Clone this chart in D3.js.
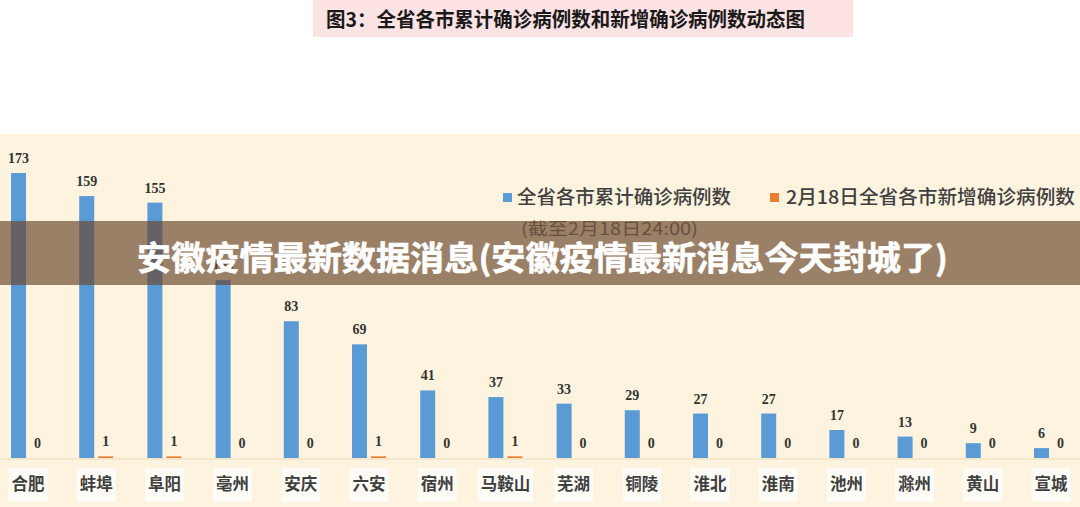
<!DOCTYPE html>
<html>
<head>
<meta charset="utf-8">
<script src="https://cdn.jsdelivr.net/npm/d3@7"></script>
<style>
  html, body { margin: 0; padding: 0; background: #ffffff; }
  svg { display: block; }
</style>
</head>
<body>
<svg id="chart" width="1080" height="507"></svg>
<script>
const cities = ["合肥","蚌埠","阜阳","亳州","安庆","六安","宿州","马鞍山","芜湖","铜陵","淮北","淮南","池州","滁州","黄山","宣城"];
const cumulative = [173,159,155,108,83,69,41,37,33,29,27,27,17,13,9,6];
const newCases = [0,1,1,0,0,1,0,1,0,0,0,0,0,0,0,0];
const seriesNames = ["全省各市累计确诊病例数","2月18日全省各市新增确诊病例数"];
const titleText = "图3：全省各市累计确诊病例数和新增确诊病例数动态图";
const subtitleText = "(截至2月18日24:00)";
const bannerText = "安徽疫情最新数据消息(安徽疫情最新消息今天封城了)";

const W = 1080, H = 507;
const svg = d3.select("#chart");
const CJK = "'Noto Sans CJK SC','Noto Sans',sans-serif";
const colors = ["#5b9bd5", "#ed7d31"];

// backgrounds
svg.append("rect").attr("x",0).attr("y",0).attr("width",W).attr("height",H).attr("fill","#ffffff");
svg.append("rect").attr("x",0).attr("y",134).attr("width",W).attr("height",H-134).attr("fill","#fdf3de");

// title box
svg.append("rect").attr("x",313).attr("y",0).attr("width",540).attr("height",37).attr("fill","#fde3e3");
svg.append("text").attr("x",326).attr("y",27)
  .attr("font-family",CJK).attr("font-weight",700).attr("font-size",20)
  .attr("fill","#1a1a1a").attr("textLength",479).attr("lengthAdjust","spacingAndGlyphs")
  .text(titleText);

// scales
const step = 68.2;
const x = d3.scaleBand().domain(cities).range([28 - step/2, 28 - step/2 + step*cities.length]).padding(0);
const x1 = d3.scaleBand().domain([0,1]).range([x.bandwidth()/2 - 17, x.bandwidth()/2 + 17]).paddingInner(4/19).paddingOuter(0);
const y = d3.scaleLinear().domain([0, 173]).range([458, 173]);

// axis line
svg.append("line").attr("x1",0).attr("x2",W).attr("y1",y(0)+1).attr("y2",y(0)+1)
  .attr("stroke","#f1e3c6").attr("stroke-width",1.5);

const groups = svg.append("g").selectAll("g").data(cities).join("g")
  .attr("transform", d => `translate(${x(d)},0)`);

const seriesData = [cumulative, newCases];
seriesData.forEach((vals, si) => {
  groups.append("rect")
    .attr("x", x1(si))
    .attr("width", x1.bandwidth())
    .attr("y", (d,i) => y(vals[i]))
    .attr("height", (d,i) => y(0) - y(vals[i]))
    .attr("fill", colors[si]);
  groups.append("text")
    .attr("x", x1(si) + x1.bandwidth()/2)
    .attr("y", (d,i) => y(vals[i]) - 10)
    .attr("text-anchor","middle")
    .attr("font-family","'Liberation Serif','DejaVu Serif',serif")
    .attr("font-weight",700)
    .attr("font-size", 14)
    .attr("fill","#333333")
    .text((d,i) => vals[i]);
});

// category labels with white boxes
const xAxis = d3.axisBottom(x).tickSize(0).tickPadding(0);
const axG = svg.append("g").attr("transform",`translate(0,${y(0)})`).call(xAxis);
axG.select(".domain").remove();
axG.selectAll(".tick").each(function(d){
  const t = d3.select(this);
  const n = d.length;
  const w = n*16.5 + 6;
  t.insert("rect","text").attr("x",-w/2).attr("y",10).attr("width",w).attr("height",34)
    .attr("fill","#ffffff").attr("opacity",0.75);
});
axG.selectAll(".tick text")
  .attr("y", 32).attr("dy", 0)
  .attr("font-family",CJK).attr("font-weight",700).attr("font-size",16.5)
  .attr("fill","#3f3f3f");

// legend
const legend = [
  {sx: 503, tx: 517, tw: 214},
  {sx: 770, tx: 786, tw: 289}
];
legend.forEach((l, i) => {
  svg.append("rect").attr("x",l.sx).attr("y",193).attr("width",9).attr("height",9).attr("fill",colors[i]);
  svg.append("text").attr("x",l.tx).attr("y",204)
    .attr("font-family",CJK).attr("font-weight",500).attr("font-size",19)
    .attr("fill","#404040").attr("textLength",l.tw).attr("lengthAdjust","spacingAndGlyphs")
    .text(seriesNames[i]);
});
svg.append("text").attr("x",521).attr("y",235)
  .attr("font-family",CJK).attr("font-weight",400).attr("font-size",17)
  .attr("fill","#666666").attr("textLength",177).attr("lengthAdjust","spacingAndGlyphs")
  .text(subtitleText);

// overlay banner
svg.append("rect").attr("x",0).attr("y",221).attr("width",W).attr("height",64)
  .attr("fill","rgb(105,69,43)").attr("fill-opacity",0.66);
svg.append("text").attr("x",137).attr("y",270)
  .attr("font-family",CJK).attr("font-weight",700).attr("font-size",33)
  .attr("fill","#ffffff").attr("stroke","#ffffff").attr("stroke-width",0.6)
  .attr("textLength",811).attr("lengthAdjust","spacingAndGlyphs")
  .text(bannerText);
</script>
</body>
</html>
